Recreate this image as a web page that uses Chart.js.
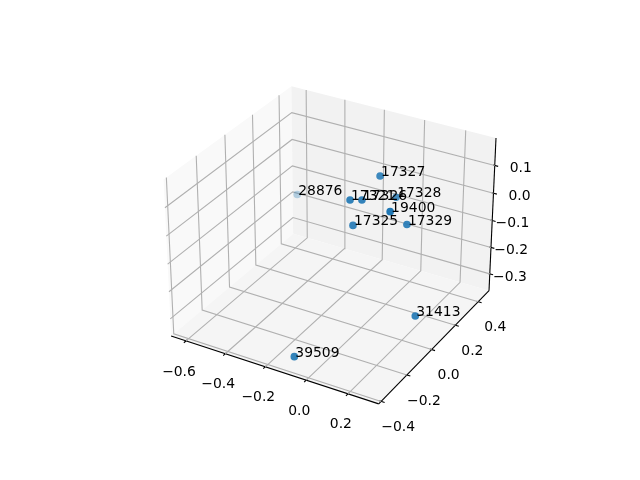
<!DOCTYPE html>
<html>
<head>
<meta charset="utf-8">
<style>html,body{margin:0;background:#fff}</style>
<script src="https://cdn.jsdelivr.net/npm/chart.js@4"></script>
</head>
<body>
<canvas id="chart" width="640" height="480"></canvas>
<script>
// point values
const labels = ["39509", "31413", "28876", "17327", "17328", "17321", "17326", "19400", "17325", "17329"];
const xValues = [-0.107, 0.288, -0.54, -0.003, 0.061, -0.069, -0.026, 0.125, -0.039, 0.158];
const yValues = [-0.344, -0.044, 0.33, 0.143, 0.168, 0.017, 0.04, 0.014, -0.007, 0.095];
const zValues = [-0.339, -0.234, -0.118, 0.128, 0.056, 0.079, 0.079, 0.079, 0.005, 0.008];

// axis limits and ticks
const xLimits = [-0.6565, 0.3245];
const yLimits = [-0.4, 0.478];
const zLimits = [-0.353, 0.186];
const xTicks = [-0.6, -0.4, -0.2, 0.0, 0.2];
const yTicks = [-0.4, -0.2, 0.0, 0.2, 0.4];
const zTicks = [-0.3, -0.2, -0.1, 0.0, 0.1];

// camera, same setup as a default 3d axes
const dist = 10;
const elev = (30 * Math.PI) / 180;
const azim = (-60 * Math.PI) / 180;
const boxScale = 1.8294640721620434 / Math.sqrt(41);
const box = [4 * boxScale, 4 * boxScale, 3 * boxScale];

const viewZ = [Math.cos(elev) * Math.cos(azim), Math.cos(elev) * Math.sin(azim), Math.sin(elev)];
const viewX = [-viewZ[1] / Math.hypot(viewZ[0], viewZ[1]), viewZ[0] / Math.hypot(viewZ[0], viewZ[1]), 0];
const viewY = [
  viewZ[1] * viewX[2] - viewZ[2] * viewX[1],
  viewZ[2] * viewX[0] - viewZ[0] * viewX[2],
  viewZ[0] * viewX[1] - viewZ[1] * viewX[0],
];

const dot = (a, b) => a[0] * b[0] + a[1] * b[1] + a[2] * b[2];

const toBox = (x, y, z) => [
  ((x - xLimits[0]) / (xLimits[1] - xLimits[0]) - 0.5) * box[0],
  ((y - yLimits[0]) / (yLimits[1] - yLimits[0]) - 0.5) * box[1],
  ((z - zLimits[0]) / (zLimits[1] - zLimits[0]) - 0.5) * box[2],
];

const depthOf = (x, y, z) => dot(toBox(x, y, z), viewZ);

const project = (x, y, z) => {
  const p = toBox(x, y, z);
  const s = dist - dot(p, viewZ);
  return { x: dot(p, viewX) / s, y: dot(p, viewY) / s };
};

// pane edges sit a bit outside the limits
const grow = (lim) => [lim[0] - (lim[1] - lim[0]) / 48, lim[1] + (lim[1] - lim[0]) / 48];
const xPane = grow(xLimits);
const yPane = grow(yLimits);
const zPane = grow(zLimits);
const xStep = (xLimits[1] - xLimits[0]) / 12;
const yStep = (yLimits[1] - yLimits[0]) / 12;

const lineSet = (pts, color) => ({
  type: "scatter",
  data: pts.map((p) => project(p[0], p[1], p[2])),
  showLine: true,
  pointRadius: 0,
  borderColor: color,
  borderWidth: 1.1,
  order: 1,
});

const GRID = "#b0b0b0";
const datasets = [];

// grid lines
xTicks.forEach((t) => {
  datasets.push(lineSet([[t, yPane[0], zPane[0]], [t, yPane[1], zPane[0]], [t, yPane[1], zPane[1]]], GRID));
});
yTicks.forEach((t) => {
  datasets.push(lineSet([[xPane[1], t, zPane[0]], [xPane[0], t, zPane[0]], [xPane[0], t, zPane[1]]], GRID));
});
zTicks.forEach((t) => {
  datasets.push(lineSet([[xPane[1], yPane[1], t], [xPane[0], yPane[1], t], [xPane[0], yPane[0], t]], GRID));
});

// axis lines and tick marks
datasets.push(lineSet([[xPane[0], yPane[0], zPane[0]], [xPane[1], yPane[0], zPane[0]]], "#000"));
datasets.push(lineSet([[xPane[1], yPane[0], zPane[0]], [xPane[1], yPane[1], zPane[0]]], "#000"));
datasets.push(lineSet([[xPane[1], yPane[1], zPane[0]], [xPane[1], yPane[1], zPane[1]]], "#000"));
xTicks.forEach((t) => {
  datasets.push(lineSet([[t, yPane[0] - 0.2 * yStep, zPane[0]], [t, yPane[0] + 0.1 * yStep, zPane[0]]], "#000"));
});
yTicks.forEach((t) => {
  datasets.push(lineSet([[xPane[1] + 0.2 * xStep, t, zPane[0]], [xPane[1] - 0.1 * xStep, t, zPane[0]]], "#000"));
});
zTicks.forEach((t) => {
  datasets.push(lineSet([[xPane[1] + 0.2 * xStep, yPane[1], t], [xPane[1] - 0.1 * xStep, yPane[1], t]], "#000"));
});

// points, faded with depth
const depths = labels.map((_, i) => depthOf(xValues[i], yValues[i], zValues[i]));
const nearest = Math.max(...depths);
const farthest = Math.min(...depths);
const pointColors = depths.map((d) => {
  const a = 0.3 + (0.7 * (d - farthest)) / (nearest - farthest);
  return "rgba(31,119,180," + a.toFixed(3) + ")";
});
datasets.push({
  type: "scatter",
  data: labels.map((_, i) => project(xValues[i], yValues[i], zValues[i])),
  pointRadius: 3.8,
  pointBorderWidth: 0,
  pointBackgroundColor: pointColors,
  order: 0,
});

const fmt = (t) => t.toFixed(1).replace("-", "\u2212");

const panes = {
  id: "panes",
  beforeDatasetsDraw(chart) {
    const { ctx, scales } = chart;
    const fillPane = (corners, color) => {
      ctx.beginPath();
      corners.forEach((c, i) => {
        const p = project(c[0], c[1], c[2]);
        const px = scales.x.getPixelForValue(p.x);
        const py = scales.y.getPixelForValue(p.y);
        if (i === 0) ctx.moveTo(px, py);
        else ctx.lineTo(px, py);
      });
      ctx.closePath();
      ctx.fillStyle = color;
      ctx.fill();
    };
    const [x0, x1] = xPane;
    const [y0, y1] = yPane;
    const [z0, z1] = zPane;
    fillPane([[x0, y0, z0], [x0, y1, z0], [x0, y1, z1], [x0, y0, z1]], "#f9f9f9");
    fillPane([[x0, y1, z0], [x1, y1, z0], [x1, y1, z1], [x0, y1, z1]], "#f2f2f2");
    fillPane([[x0, y0, z0], [x1, y0, z0], [x1, y1, z0], [x0, y1, z0]], "#f5f5f5");
  },
};

const texts = {
  id: "texts",
  afterDatasetsDraw(chart) {
    const { ctx, scales } = chart;
    const pixel = (x, y, z) => {
      const p = project(x, y, z);
      return [scales.x.getPixelForValue(p.x), scales.y.getPixelForValue(p.y)];
    };
    ctx.save();
    ctx.fillStyle = "#000";
    ctx.font = "13.9px 'DejaVu Sans'";

    // tick labels
    ctx.textAlign = "center";
    ctx.textBaseline = "middle";
    xTicks.forEach((t) => {
      const [px, py] = pixel(t, yPane[0], zPane[0]);
      ctx.fillText(fmt(t), px - 7, py + 31);
    });
    yTicks.forEach((t) => {
      const [px, py] = pixel(xPane[1], t, zPane[0]);
      ctx.fillText(fmt(t), px + 17, py + 26);
    });
    ctx.textAlign = "right";
    zTicks.forEach((t) => {
      const [px, py] = pixel(xPane[1], yPane[1], t);
      ctx.fillText(fmt(t), px + 37, py + 3);
    });

    // point labels
    ctx.textAlign = "left";
    ctx.textBaseline = "alphabetic";
    labels.forEach((s, i) => {
      const [px, py] = pixel(xValues[i], yValues[i], zValues[i]);
      ctx.fillText(s, px + 1, py);
    });
    ctx.restore();
  },
};

new Chart(document.getElementById("chart"), {
  type: "scatter",
  data: { datasets },
  plugins: [panes, texts],
  options: {
    responsive: false,
    animation: false,
    layout: { padding: { left: 143.2, right: 127.2, top: 57.6, bottom: 52.8 } },
    scales: {
      x: { type: "linear", display: false, min: -0.095, max: 0.09 },
      y: { type: "linear", display: false, min: -0.095, max: 0.09 },
    },
    plugins: { legend: { display: false }, tooltip: { enabled: false } },
  },
});
</script>
</body>
</html>
